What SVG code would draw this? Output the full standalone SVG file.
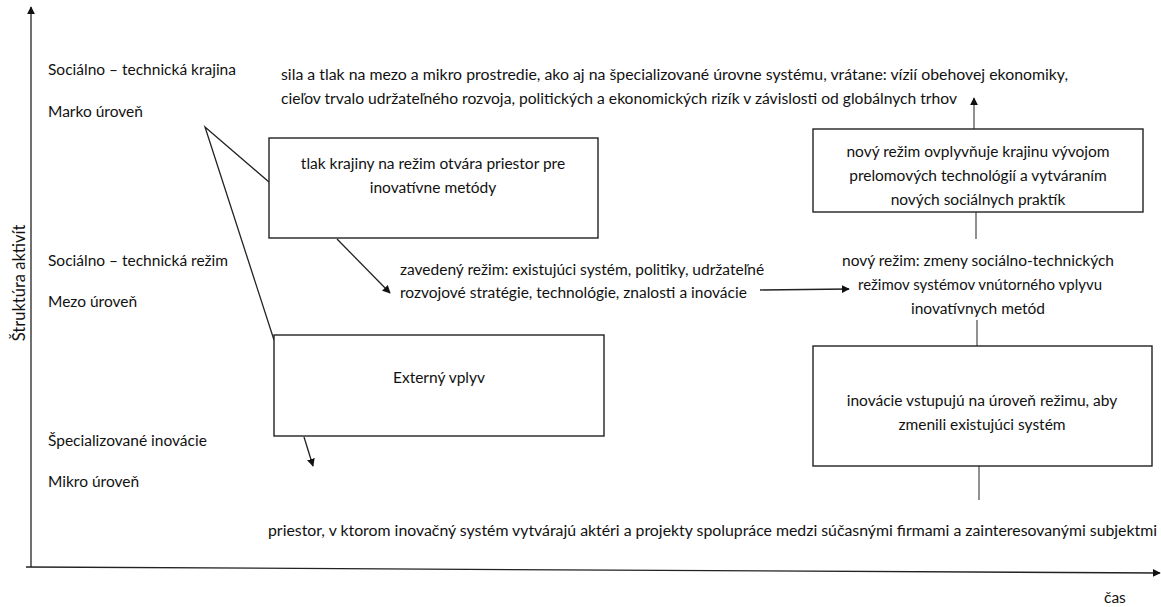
<svg xmlns="http://www.w3.org/2000/svg" width="1161" height="607" viewBox="0 0 1161 607">
<style>
text{font-family:Lato,"Open Sans","Liberation Sans",sans-serif;font-size:15.5px;fill:#111}
.c{text-anchor:middle}
.box{fill:#fff;stroke:#222;stroke-width:1.4}
.ln{fill:none;stroke:#222;stroke-width:1.3}
.gr{fill:none;stroke:#555;stroke-width:1.3}
</style>
<defs>
<marker id="ah" viewBox="0 0 10 10" refX="9" refY="5" markerWidth="8" markerHeight="8" markerUnits="userSpaceOnUse" orient="auto">
<path d="M0,0L10,5L0,10z" fill="#111"/>
</marker>
</defs>
<rect width="1161" height="607" fill="#fff"/>
<g id="axes">
<line class="ln" x1="31" y1="567" x2="31" y2="7" marker-end="url(#ah)"/>
<line class="ln" x1="26" y1="567" x2="1160" y2="573" marker-end="url(#ah)"/>
<text transform="translate(25,283) rotate(-90)" class="c" style="font-size:16.5px">Štruktúra aktivít</text>
<text x="1104" y="603">čas</text>
</g>
<g id="levels">
<text x="48" y="75">Sociálno – technická krajina</text>
<text x="48" y="117">Marko úroveň</text>
<text x="48" y="266">Sociálno – technická režim</text>
<text x="48" y="307">Mezo úroveň</text>
<text x="48" y="446">Špecializované inovácie</text>
<text x="48" y="487">Mikro úroveň</text>
</g>
<g id="landscape-text">
<text x="281" y="80" textLength="787" lengthAdjust="spacingAndGlyphs">sila a tlak na mezo a mikro prostredie, ako aj na špecializované úrovne systému, vrátane: vízií obehovej ekonomiky,</text>
<text x="281" y="104" textLength="676" lengthAdjust="spacingAndGlyphs">cieľov trvalo udržateľného rozvoja, politických a ekonomických rizík v závislosti od globálnych trhov</text>
</g>
<g id="connectors">
<polyline class="ln" points="269,182 205,127 274,340"/>
<line class="ln" x1="337" y1="239" x2="390" y2="293" marker-end="url(#ah)"/>
<line class="ln" x1="304" y1="437" x2="313" y2="466" marker-end="url(#ah)"/>
<line class="ln" x1="760" y1="290" x2="849" y2="289" marker-end="url(#ah)"/>
<line class="gr" x1="974" y1="129" x2="974" y2="98" marker-end="url(#ah)"/>
<line class="gr" x1="976" y1="212" x2="976" y2="239"/>
<line class="gr" x1="977" y1="320" x2="977" y2="346"/>
<line class="gr" x1="979" y1="466" x2="979" y2="500"/>
</g>
<g id="box-pressure">
<rect class="box" x="269" y="138" width="329" height="100"/>
<text class="c" x="433" y="169">tlak krajiny na režim otvára priestor pre</text>
<text class="c" x="433" y="193">inovatívne metódy</text>
</g>
<g id="box-external">
<rect class="box" x="274" y="335" width="330" height="101"/>
<text class="c" x="439" y="383">Externý vplyv</text>
</g>
<g id="regime-text">
<text x="400" y="275">zavedený režim: existujúci systém, politiky, udržateľné</text>
<text x="400" y="298">rozvojové stratégie, technológie, znalosti a inovácie</text>
</g>
<g id="box-new-regime-landscape">
<rect class="box" x="813" y="129" width="330" height="83"/>
<text class="c" x="978" y="157">nový režim ovplyvňuje krajinu vývojom</text>
<text class="c" x="978" y="181">prelomových technológií a vytváraním</text>
<text class="c" x="978" y="205">nových sociálnych praktík</text>
</g>
<g id="new-regime-text">
<text class="c" x="978" y="266">nový režim: zmeny sociálno-technických</text>
<text class="c" x="980" y="290" textLength="244" lengthAdjust="spacingAndGlyphs">režimov systémov vnútorného vplyvu</text>
<text class="c" x="978" y="314">inovatívnych metód</text>
</g>
<g id="box-innovations">
<rect class="box" x="813" y="346" width="339" height="120"/>
<text class="c" x="982" y="406">inovácie vstupujú na úroveň režimu, aby</text>
<text class="c" x="982" y="430">zmenili existujúci systém</text>
</g>
<g id="micro-text">
<text x="268" y="536" textLength="889" lengthAdjust="spacingAndGlyphs">priestor, v ktorom inovačný systém vytvárajú aktéri a projekty spolupráce medzi súčasnými firmami a zainteresovanými subjektmi</text>
</g>
</svg>
